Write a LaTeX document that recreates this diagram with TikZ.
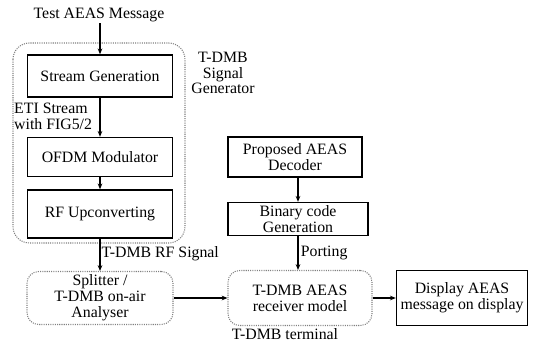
\documentclass[tikz,border=0pt]{standalone}
\usepackage{fontspec}
\setmainfont{Liberation Serif}
\usetikzlibrary{arrows.meta,positioning}
\begin{document}
\begin{tikzpicture}[x=0.03cm,y=-0.03cm,
  every node/.style={font=\fontsize{13.5}{13.5}\selectfont, align=center, inner sep=1pt},
  block/.style={draw, line width=1.2pt, minimum width=145*0.03cm, inner sep=2pt},
  soft/.style={draw=gray, densely dotted, line width=0.9pt, rounded corners=10pt, inner sep=2pt},
  sig/.style={-{Stealth[length=5pt,width=4pt]}, line width=0.9pt},
]
\useasboundingbox (0,0) rectangle (535,345);
% signal generator (left column)
\node (msg) at (99,15) {Test AEAS Message};
\draw[soft, rounded corners=14pt] (13,43) rectangle (185,243);
\node (gentxt) at (223,73) {T-DMB\\Signal\\Generator};
\node[block, minimum height=42*0.03cm] (sgen) at (100,76) {Stream Generation};
\node[block, minimum height=39*0.03cm] (ofdm) at (100,157) {OFDM Modulator};
\node[block, minimum height=48*0.03cm] (rfup) at (100,214) {RF Upconverting};
\node[anchor=west, align=left, inner sep=0pt] (eti) at (14,116) {ETI Stream\\with FIG5/2};
\node[soft, minimum width=146*0.03cm, minimum height=53*0.03cm] (split) at (100,298)
  {Splitter /\\T-DMB on-air\\Analyser};

\draw[sig] (msg.south -| sgen) -- (sgen);
\draw[sig] (sgen) -- (ofdm);
\draw[sig] (ofdm) -- (rfup);
\draw[sig] (rfup) -- (split)
  node[pos=0.45, anchor=west, inner sep=1pt] (rflab) {T-DMB RF Signal};

% decoder side (right)
\node[block, minimum width=134*0.03cm, minimum height=40*0.03cm] (prop) at (295,157)
  {Proposed AEAS\\Decoder};
\node[block, minimum width=140*0.03cm, minimum height=33*0.03cm] (bin) at (298,219)
  {Binary code\\Generation};
\node[soft, minimum width=144*0.03cm, minimum height=55*0.03cm] (recv) at (300,298)
  {T-DMB AEAS\\receiver model};
\node (term) at (285,334) {T-DMB terminal};
\node[block, minimum width=131*0.03cm, minimum height=55*0.03cm] (disp) at (462,298)
  {Display AEAS\\message on display};

\draw[sig] (prop.south -| bin) -- (bin);
\draw[sig] (bin) -- (bin |- recv.north)
  node[midway, anchor=west, inner sep=2pt] (port) {Porting};
\draw[sig] (split) -- (recv);
\draw[sig] (recv) -- (disp);
\end{tikzpicture}
\end{document}
